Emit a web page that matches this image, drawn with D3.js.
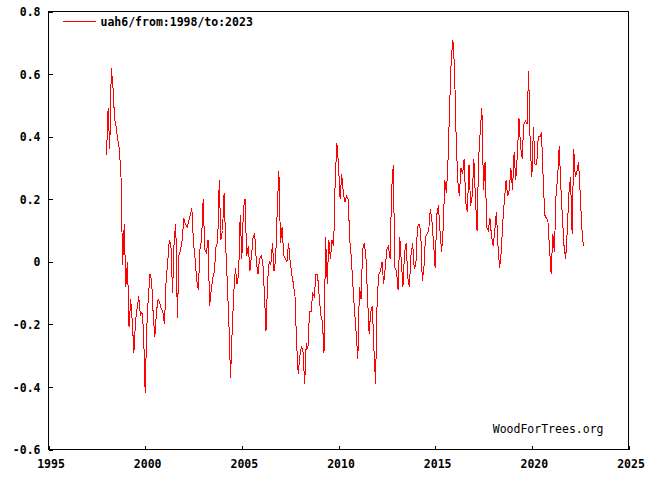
<!DOCTYPE html>
<html>
<head>
<meta charset="utf-8">
<script src="https://cdn.jsdelivr.net/npm/d3@7"></script>
<style>
  body { margin: 0; background: #fff; }
  svg { display: block; }
  .tick text, .lbl { font-family: "DejaVu Sans Mono", monospace; font-size: 11.5px; font-weight: bold; fill: #000; }
  .credit { font-family: "DejaVu Sans Mono", monospace; font-size: 11.5px; fill: #000; }
</style>
</head>
<body>
<div id="chart"></div>
<script>
const width = 645;
const height = 478;
const margin = { top: 11, right: 17, bottom: 29, left: 48 };

// monthly anomalies, starting January 1998
const startYear = 1998;
const values = [
  0.34, 0.49, 0.36, 0.62, 0.56, 0.46, 0.43, 0.39, 0.36, 0.27, -0.01, 0.12,
  -0.08, 0.00, -0.21, -0.12, -0.19, -0.29, -0.19, -0.15, -0.11, -0.17, -0.16, -0.22,
  -0.42, -0.21, -0.11, -0.04, -0.06, -0.17, -0.24, -0.16, -0.12, -0.13, -0.15, -0.16,
  -0.20, -0.06, 0.00, 0.07, 0.05, -0.10, 0.07, 0.12, -0.18, 0.02, 0.04, 0.07,
  0.14, 0.12, 0.11, 0.13, 0.15, 0.17, 0.06, 0.01, -0.06, -0.09, 0.04, 0.07,
  0.20, 0.04, 0.03, 0.07, -0.14, -0.09, -0.05, -0.03, 0.05, 0.06, 0.26, 0.07,
  0.10, 0.22, 0.05, -0.07, -0.20, -0.37, -0.22, -0.10, -0.02, -0.07, -0.04, 0.15,
  0.01, 0.17, 0.20, 0.02, 0.05, -0.03, 0.02, 0.08, 0.09, 0.00, -0.04, 0.01,
  0.02, 0.00, -0.10, -0.22, -0.06, 0.00, -0.01, 0.06, -0.03, 0.01, 0.17, 0.29,
  0.06, 0.11, 0.02, 0.01, 0.00, 0.06, 0.00, -0.04, -0.07, -0.11, -0.26, -0.36,
  -0.30, -0.27, -0.29, -0.39, -0.26, -0.28, -0.16, -0.16, -0.10, -0.11, -0.04, -0.04,
  -0.11, -0.17, -0.19, -0.29, 0.08, -0.07, 0.07, 0.01, 0.07, 0.05, 0.27, 0.38,
  0.31, 0.20, 0.28, 0.22, 0.19, 0.21, 0.20, 0.07, 0.01, -0.08, -0.16, -0.23,
  -0.31, -0.08, -0.12, 0.04, 0.06, 0.02, -0.11, -0.23, -0.16, -0.14, -0.28, -0.39,
  -0.12, -0.04, -0.03, 0.00, -0.07, -0.02, 0.04, 0.05, 0.01, 0.23, 0.31, -0.02,
  -0.03, -0.09, 0.08, 0.00, -0.08, 0.03, 0.06, -0.05, -0.08, 0.02, 0.06, -0.02,
  -0.01, 0.11, 0.12, 0.10, -0.06, -0.02, 0.08, 0.09, 0.10, 0.17, 0.13, 0.06,
  -0.02, 0.15, 0.18, 0.10, 0.03, 0.11, 0.26, 0.22, 0.33, 0.50, 0.65, 0.71,
  0.62, 0.40, 0.26, 0.21, 0.30, 0.28, 0.33, 0.19, 0.16, 0.31, 0.18, 0.21,
  0.33, 0.20, 0.10, 0.33, 0.42, 0.49, 0.23, 0.32, 0.11, 0.10, 0.14, 0.08,
  0.05, 0.10, 0.16, 0.05, -0.02, 0.03, 0.13, 0.20, 0.26, 0.21, 0.23, 0.30,
  0.23, 0.35, 0.26, 0.34, 0.46, 0.37, 0.33, 0.44, 0.45, 0.44, 0.61, 0.37,
  0.27, 0.43, 0.31, 0.31, 0.40, 0.40, 0.41, 0.27, 0.15, 0.14, 0.13, 0.04,
  -0.04, 0.09, 0.03, 0.21, 0.27, 0.37, 0.24, 0.14, 0.05, 0.01, 0.10, 0.22,
  0.27, 0.09, 0.36, 0.27, 0.29, 0.32, 0.22, 0.11, 0.05
];
const xTicks = [1995, 2000, 2005, 2010, 2015, 2020, 2025];
const yTicks = [-0.6, -0.4, -0.2, 0, 0.2, 0.4, 0.6, 0.8];
const seriesName = "uah6/from:1998/to:2023";
const credit = "WoodForTrees.org";

const data = values.map((v, i) => ({ t: startYear + i / 12, v: v }));

const innerW = width - margin.left - margin.right;
const innerH = height - margin.top - margin.bottom;

const svg = d3.select("#chart")
  .append("svg")
  .attr("width", width)
  .attr("height", height)
  .append("g")
  .attr("transform", `translate(${margin.left + 0.5}, ${margin.top + 0.5})`);

const x = d3.scaleLinear()
  .domain([1995, 2025])
  .range([0, innerW]);

const y = d3.scaleLinear()
  .domain([-0.6, 0.8])
  .range([innerH, 0]);

const xAxis = d3.axisBottom(x)
  .tickValues(xTicks)
  .tickFormat(d3.format("d"))
  .tickSizeInner(-4)
  .tickSizeOuter(0)
  .tickPadding(10);

const yAxis = d3.axisLeft(y)
  .tickValues(yTicks)
  .tickFormat(d => d === 0 ? "0" : d.toFixed(1))
  .tickSizeInner(-4)
  .tickSizeOuter(0)
  .tickPadding(8);

const gx = svg.append("g")
  .attr("class", "x axis")
  .attr("transform", `translate(0, ${innerH})`)
  .call(xAxis);

const gy = svg.append("g")
  .attr("class", "y axis")
  .call(yAxis);

[gx, gy].forEach(g => {
  g.select(".domain").remove();
  g.selectAll(".tick line").attr("stroke", "#000").attr("shape-rendering", "crispEdges");
});
gx.selectAll(".tick text").attr("dx", "2");
gy.selectAll(".tick text").attr("dy", "0.36em");

const line = d3.line()
  .x(d => x(d.t))
  .y(d => y(d.v));

svg.append("path")
  .datum(data)
  .attr("fill", "none")
  .attr("stroke", "#ff0000")
  .attr("stroke-width", 1)
  .attr("shape-rendering", "crispEdges")
  .attr("d", line);

svg.append("rect")
  .attr("x", 0)
  .attr("y", 0)
  .attr("width", innerW)
  .attr("height", innerH)
  .attr("fill", "none")
  .attr("stroke", "#000")
  .attr("shape-rendering", "crispEdges");

// legend
svg.append("line")
  .attr("x1", 14)
  .attr("x2", 47)
  .attr("y1", 10)
  .attr("y2", 10)
  .attr("stroke", "#ff0000")
  .attr("shape-rendering", "crispEdges");

svg.append("text")
  .attr("class", "lbl")
  .attr("x", 52)
  .attr("y", 14)
  .text(seriesName);

svg.append("text")
  .attr("class", "credit")
  .attr("x", 555)
  .attr("y", 421)
  .attr("text-anchor", "end")
  .text(credit);
</script>
</body>
</html>
